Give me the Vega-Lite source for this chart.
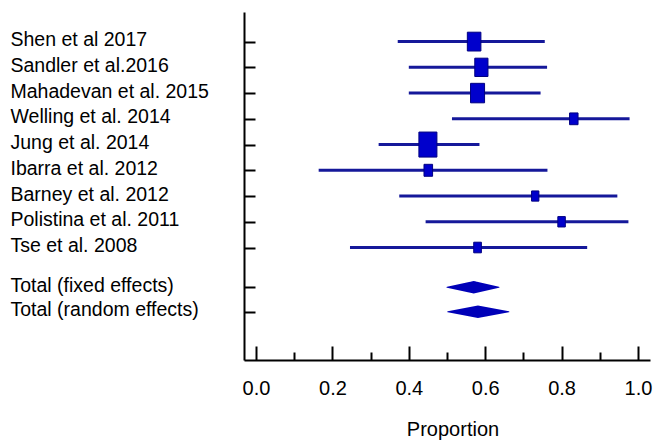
{
  "$schema": "https://vega.github.io/schema/vega-lite/v6.json",
  "width": 406,
  "height": 348,
  "autosize": "none",
  "padding": {"left": 244, "top": 12, "right": 4, "bottom": 81},
  "config": {"view": {"stroke": null}, "font": "Liberation Sans"},
  "resolve": {"axis": {"x": "independent"}},
  "datasets": {
    "studies": [
      {"study": "Shen et al 2017", "row": 1, "est": 0.571, "lo": 0.371, "hi": 0.756, "weight": 15.4},
      {"study": "Sandler et al.2016", "row": 2, "est": 0.590, "lo": 0.400, "hi": 0.762, "weight": 14.6},
      {"study": "Mahadevan et al. 2015", "row": 3, "est": 0.580, "lo": 0.400, "hi": 0.745, "weight": 16.5},
      {"study": "Welling et al. 2014", "row": 4, "est": 0.832, "lo": 0.513, "hi": 0.978, "weight": 6.0},
      {"study": "Jung et al. 2014", "row": 5, "est": 0.450, "lo": 0.321, "hi": 0.585, "weight": 27.2},
      {"study": "Ibarra et al. 2012", "row": 6, "est": 0.451, "lo": 0.164, "hi": 0.763, "weight": 6.2},
      {"study": "Barney et al. 2012", "row": 7, "est": 0.731, "lo": 0.375, "hi": 0.946, "weight": 4.5},
      {"study": "Polistina et al. 2011", "row": 8, "est": 0.800, "lo": 0.444, "hi": 0.975, "weight": 4.7},
      {"study": "Tse et al. 2008", "row": 9, "est": 0.580, "lo": 0.246, "hi": 0.867, "weight": 4.9}
    ],
    "pooled": [
      {"model": "Total (fixed effects)", "row": 10.54, "bound": "lower", "value": 0.500},
      {"model": "Total (fixed effects)", "row": 10.54, "bound": "estimate", "value": 0.570},
      {"model": "Total (fixed effects)", "row": 10.54, "bound": "upper", "value": 0.636},
      {"model": "Total (random effects)", "row": 11.5, "bound": "lower", "value": 0.502},
      {"model": "Total (random effects)", "row": 11.5, "bound": "estimate", "value": 0.581},
      {"model": "Total (random effects)", "row": 11.5, "bound": "upper", "value": 0.662}
    ]
  },
  "layer": [
    {
      "data": {"name": "studies"},
      "mark": {"type": "rule", "color": "#15189a", "strokeWidth": 3},
      "encoding": {
        "x": {
          "field": "lo", "type": "quantitative",
          "scale": {"domain": [-0.0315, 1.0315], "nice": false, "zero": false},
          "axis": {
            "orient": "bottom",
            "values": [0, 0.2, 0.4, 0.6, 0.8, 1.0],
            "tickCount": 30,
            "format": ".1f",
            "tickSize": -14,
            "tickColor": "black", "tickWidth": 2,
            "domainColor": "black", "domainWidth": 2,
            "labelFontSize": 20, "labelColor": "black", "labelPadding": 32, "labelFlush": false,
            "labelOverlap": false,
            "grid": false,
            "title": "Proportion", "titleFontSize": 20, "titleFontWeight": "normal", "titleColor": "black",
            "titlePadding": 21, "titleX": 208.5, "titleAlign": "center"
          }
        },
        "x2": {"field": "hi"},
        "y": {
          "field": "row", "type": "quantitative",
          "scale": {"domain": [-0.15, 13.37], "reverse": true, "nice": false, "zero": false},
          "axis": {
            "values": [1, 2, 3, 4, 5, 6, 7, 8, 9, 10.54, 11.5],
            "tickCount": 30,
            "labelExpr": "['Shen et al 2017','Sandler et al.2016','Mahadevan et al. 2015','Welling et al. 2014','Jung et al. 2014','Ibarra et al. 2012','Barney et al. 2012','Polistina et al. 2011','Tse et al. 2008','Total (fixed effects)','Total (random effects)'][indexof([1,2,3,4,5,6,7,8,9,10.54,11.5], datum.value)]",
            "tickSize": -11, "tickColor": "black", "tickWidth": 2,
            "domainColor": "black", "domainWidth": 2,
            "labelAlign": "left", "labelBaseline": "alphabetic", "labelOffset": 4,
            "labelPadding": 245, "labelFontSize": 19.5, "labelColor": "black",
            "labelLimit": 400, "labelOverlap": false,
            "grid": false, "title": null
          }
        }
      }
    },
    {
      "data": {"name": "studies"},
      "mark": {"type": "point", "filled": true, "shape": "M-0.72,-1H0.72V1H-0.72Z", "color": "#0000cc", "stroke": "#000080", "strokeWidth": 1, "opacity": 1},
      "encoding": {
        "x": {
          "field": "est", "type": "quantitative",
          "axis": {
            "orient": "bottom",
            "values": [0.1, 0.3, 0.5, 0.7, 0.9],
            "tickCount": 30,
            "tickSize": -8, "tickColor": "black", "tickWidth": 2,
            "labels": false, "domain": false, "grid": false, "title": null
          }
        },
        "y": {"field": "row", "type": "quantitative"},
        "size": {"field": "weight", "type": "quantitative", "scale": {"domain": [0, 100], "range": [0, 2300]}, "legend": null}
      }
    },
    {
      "data": {"name": "pooled"},
      "mark": {"type": "trail", "color": "#0000b8"},
      "encoding": {
        "x": {"field": "value", "type": "quantitative", "axis": null},
        "y": {"field": "row", "type": "quantitative"},
        "detail": {"field": "model", "type": "nominal"},
        "size": {"field": "bound", "type": "nominal", "scale": {"type": "ordinal", "domain": ["lower", "estimate", "upper"], "range": [0, 12.5, 0]}, "legend": null}
      }
    }
  ]
}
